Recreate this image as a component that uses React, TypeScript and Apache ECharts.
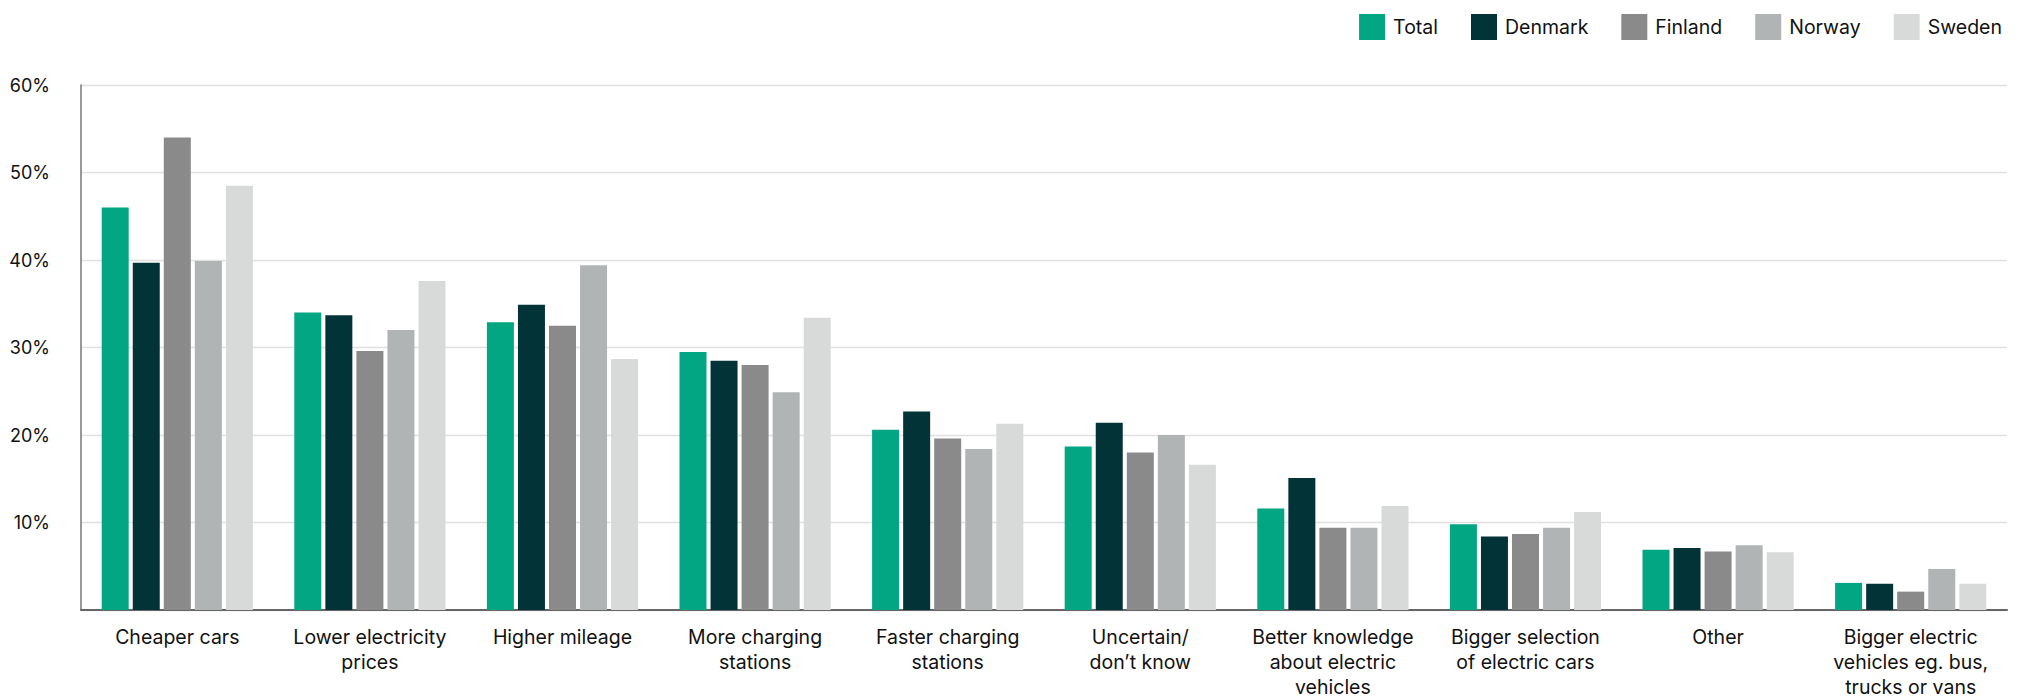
import React, { useEffect, useRef } from "react";
import * as echarts from "echarts";

// Reasons to buy an electric car, share of respondents (%)
const categories = [
  "Cheaper cars",
  "Lower electricity\nprices",
  "Higher mileage",
  "More charging\nstations",
  "Faster charging\nstations",
  "Uncertain/\ndon’t know",
  "Better knowledge\nabout electric\nvehicles",
  "Bigger selection\nof electric cars",
  "Other",
  "Bigger electric\nvehicles eg. bus,\ntrucks or vans",
];

const seriesNames = ["Total", "Denmark", "Finland", "Norway", "Sweden"];

const totalValues = [46.0, 34.0, 32.9, 29.5, 20.6, 18.7, 11.6, 9.8, 6.9, 3.1];
const denmarkValues = [39.7, 33.7, 34.9, 28.5, 22.7, 21.4, 15.1, 8.4, 7.1, 3.0];
const finlandValues = [54.0, 29.6, 32.5, 28.0, 19.6, 18.0, 9.4, 8.7, 6.7, 2.1];
const norwayValues = [39.9, 32.0, 39.4, 24.9, 18.4, 20.0, 9.4, 9.4, 7.4, 4.7];
const swedenValues = [48.5, 37.6, 28.7, 33.4, 21.3, 16.6, 11.9, 11.2, 6.6, 3.0];

const yTicks = [0, 10, 20, 30, 40, 50, 60];

const palette = ["#02a682", "#023337", "#898a89", "#b1b4b4", "#d8dad9"];

const FONT = "Inter, 'Liberation Sans', Arial, sans-serif";
const TEXT = "#111111";

export default function App() {
  const ref = useRef<HTMLDivElement>(null);

  useEffect(() => {
    if (!ref.current) return;
    const chart = echarts.init(ref.current, undefined, { renderer: "svg" });
    const values = [totalValues, denmarkValues, finlandValues, norwayValues, swedenValues];

    chart.setOption({
      animation: false,
      textStyle: { fontFamily: FONT, color: TEXT },
      color: palette,
      legend: {
        data: seriesNames,
        right: 17,
        top: 9,
        itemWidth: 26,
        itemHeight: 26,
        itemGap: 33,
        icon: "rect",
        textStyle: { fontFamily: FONT, fontSize: 19.5, color: TEXT, padding: [0, 0, 0, 3] },
      },
      grid: { left: 81, right: 17, top: 85, bottom: 88.5, containLabel: false },
      xAxis: {
        type: "category",
        data: categories,
        axisLine: { show: true, lineStyle: { color: "#666666", width: 2 } },
        axisTick: { show: false },
        axisLabel: {
          interval: 0,
          margin: 14,
          fontFamily: FONT,
          fontSize: 19.5,
          lineHeight: 25,
          color: TEXT,
          align: "center",
        },
      },
      yAxis: {
        type: "value",
        min: yTicks[0],
        max: yTicks[yTicks.length - 1],
        interval: 10,
        axisLine: { show: true, lineStyle: { color: "#777777", width: 1.5 } },
        axisTick: { show: false },
        splitLine: { show: true, lineStyle: { color: "#e0e0e0", width: 1.3 } },
        axisLabel: {
          margin: 31,
          fontFamily: FONT,
          fontSize: 18,
          color: TEXT,
          formatter: (v: number) => (v === 0 ? "" : `${v}%`),
        },
      },
      series: seriesNames.map((name, i) => ({
        name,
        type: "bar",
        data: values[i],
        barWidth: 27,
        barGap: "15%",
        itemStyle: { color: palette[i] },
      })),
    });

    return () => chart.dispose();
  }, []);

  return (
    <div
      ref={ref}
      style={{ position: "fixed", left: 0, top: 0, width: "100vw", height: "100vh", background: "#ffffff" }}
    />
  );
}
